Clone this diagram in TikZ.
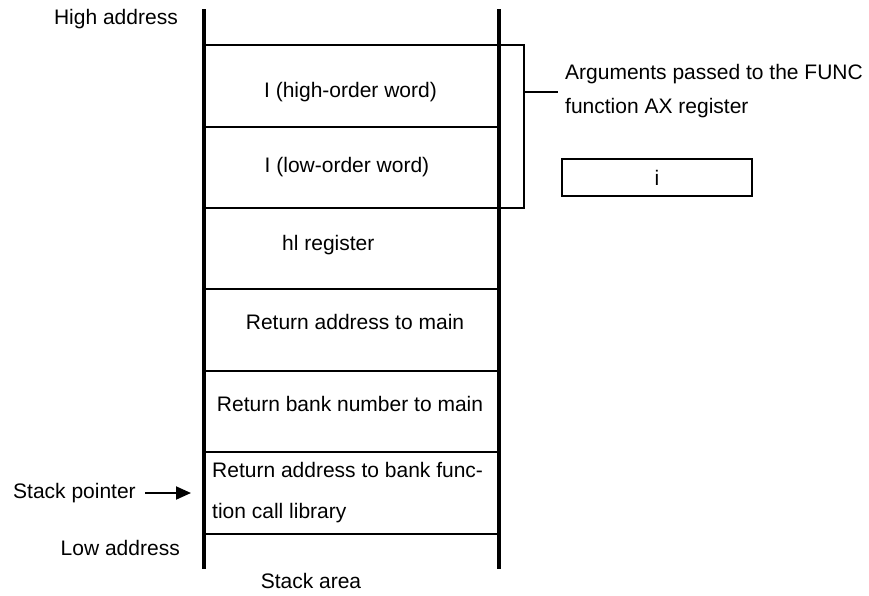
\documentclass[tikz,border=0pt]{standalone}
\usepackage{fontspec}
\setmainfont{Liberation Sans}
\usetikzlibrary{arrows.meta}
\begin{document}
\begin{tikzpicture}[x=1pt,y=-1pt,
  txt/.style={inner sep=0pt,font=\fontsize{21}{25}\selectfont},
  wall/.style={line width=3.6pt},
  sep/.style={line width=2.7pt},
  brk/.style={line width=2pt},
  regbox/.style={draw,line width=2.2pt,minimum width=190pt,minimum height=37pt,inner sep=0pt,font=\fontsize{21}{25}\selectfont}]
\useasboundingbox (0,0) rectangle (869,595);
% stack walls
\coordinate (tl) at (204,9);
\coordinate (bl) at (204,569);
\coordinate (tr) at (499,9);
\coordinate (br) at (499,569);
\draw[wall] (tl) -- (bl);
\draw[wall] (tr) -- (br);
% separators
\foreach \yy/\nm in {45/s1,127/s2,208/s3,289/s4,371/s5,452/s6,534/s7}{
  \coordinate (\nm l) at (204,\yy);
  \coordinate (\nm r) at (499,\yy);
  \draw[sep] (\nm l) -- (\nm r);
}
% bracket
\coordinate (b1) at (524,45);
\coordinate (b2) at (524,208);
\coordinate (bm) at (524,92);
\coordinate (be) at (558,92);
\draw[brk] (s1r) -- (b1) -- (b2) -- (s3r);
\draw[brk] (bm) -- (be);
% cell texts
\node[txt,anchor=base] (hi) at (350.5,97) {I (high-order word)};
\node[txt,anchor=base] (lo) at (347,172) {I (low-order word)};
\node[txt,anchor=base west] (hl) at (282,250) {hl register};
\node[txt,anchor=base] (ram) at (355,329) {Return address to main};
\node[txt,anchor=base] (rbn) at (350,411) {Return bank number to main};
\node[txt,anchor=base west] (rab1) at (212,477) {Return address to bank func-};
\node[txt,anchor=base west] (rab2) at (212,518) {tion call library};
% left labels
\node[txt,anchor=base east] (high) at (178,24) {High address};
\node[txt,anchor=base east] (low) at (180,555) {Low address};
\node[txt,anchor=base west] (sp) at (13,498) {Stack pointer};
\node[txt,anchor=base] (area) at (311,588) {Stack area};
\coordinate (spt) at (191,493);
\draw[line width=2pt,-{Triangle[length=15pt,width=13pt]}] (145,493) -- (spt);
% right side
\node[txt,anchor=base west] (arg1) at (565,79) {Arguments passed to the FUNC};
\node[txt,anchor=base west] (arg2) at (565,113) {function AX register};
\node[regbox] (ibox) at (657,177.5) {i};
\end{tikzpicture}
\end{document}
